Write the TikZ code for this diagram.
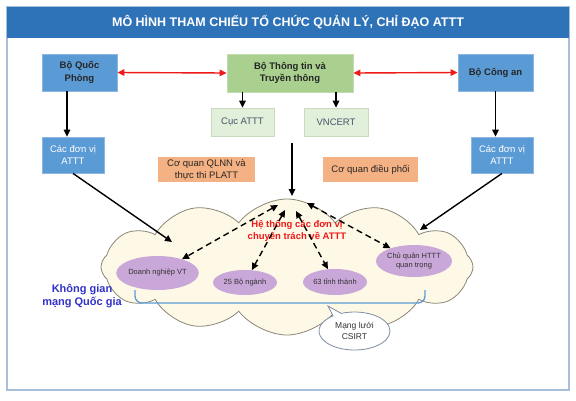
\documentclass[tikz,border=0pt]{standalone}
\usepackage{fontspec}
\setmainfont{Liberation Sans}
\usetikzlibrary{positioning,arrows.meta,shapes.geometric,shapes.symbols,shapes.callouts}
\definecolor{titleBlue}{HTML}{2E72B8}
\definecolor{frameBlue}{HTML}{A7BFDA}
\definecolor{boxBlue}{HTML}{5B9BD5}
\definecolor{boxBlueLine}{HTML}{8DB6E0}
\definecolor{ministryGreen}{HTML}{A9D08E}
\definecolor{ministryGreenLine}{HTML}{C3DDB0}
\definecolor{paleGreen}{HTML}{E2EFDA}
\definecolor{paleGreenLine}{HTML}{C8DBBD}
\definecolor{slateText}{HTML}{44546A}
\definecolor{softOrange}{HTML}{F4B183}
\definecolor{lilac}{HTML}{C9A7D9}
\definecolor{cloudCream}{HTML}{FEF9E6}
\definecolor{cloudLine}{HTML}{8A8778}
\definecolor{arrowRed}{HTML}{F01818}
\definecolor{spaceBlue}{HTML}{3232C8}
\definecolor{braceBlue}{HTML}{5B9BD5}
\definecolor{calloutLine}{HTML}{7F8EA0}
\tikzset{
    titlebar/.style={fill=titleBlue,minimum width=562pt,minimum height=31pt,
        inner sep=0pt,text=white,font=\fontsize{12.5}{14}\selectfont\bfseries},
    bluebox/.style={draw=boxBlueLine,fill=boxBlue,line width=0.8pt,inner sep=2pt,
        align=center,font=\fontsize{9.5}{12.3}\selectfont\bfseries,text=black!85},
    unitbox/.style={draw=boxBlueLine,fill=boxBlue,line width=0.8pt,inner sep=2pt,
        align=center,font=\fontsize{9.5}{12.3}\selectfont,text=white},
    greenbox/.style={draw=ministryGreenLine,fill=ministryGreen,line width=0.8pt,inner sep=2pt,
        align=center,font=\fontsize{9.5}{12.3}\selectfont\bfseries,text=black!85},
    palebox/.style={draw=paleGreenLine,fill=paleGreen,line width=0.8pt,inner sep=2pt,
        align=center,font=\fontsize{9.5}{11}\selectfont,text=slateText},
    orangebox/.style={fill=softOrange,inner sep=2pt,
        align=center,font=\fontsize{9.5}{11.5}\selectfont,text=black!85},
    unitellipse/.style={ellipse,fill=lilac,inner sep=0pt,
        align=center,font=\fontsize{7.5}{9.5}\selectfont,text=black!80},
    arrow/.style={-{Triangle[length=7pt,width=6.5pt]},draw=black,line width=1.4pt},
    redarrow/.style={{Triangle[length=7pt,width=6.5pt]}-{Triangle[length=7pt,width=6.5pt]},
        draw=arrowRed,line width=1.4pt},
    dashedarrow/.style={{Triangle[length=7pt,width=6.5pt]}-{Triangle[length=7pt,width=6.5pt]},
        draw=black,line width=1.4pt,dash pattern=on 6pt off 4pt}
}

\begin{document}
\begin{tikzpicture}[x=1pt,y=-1pt]
    \useasboundingbox (0,0) rectangle (576,400);
    \fill[white] (0,0) rectangle (576,400);
    \draw[frameBlue,line width=1.2pt] (7,7) rectangle (569,390);
    \node[titlebar] (title) at (288,22.5) {MÔ HÌNH THAM CHIẾU TỔ CHỨC QUẢN LÝ, CHỈ ĐẠO ATTT};

    % ministries
    \node[bluebox,minimum width=75pt,minimum height=37pt] (qp) at (79.5,72.5) {Bộ Quốc\\Phòng};
    \node[greenbox,minimum width=126pt,minimum height=38pt] (ttt) at (290,73) {Bộ Thông tin và\\Truyền thông};
    \node[bluebox,minimum width=75pt,minimum height=37pt] (ca) at (495.5,72.5) {Bộ Công an};
    \node[palebox,minimum width=63pt,minimum height=28pt] (cuc) at (242.5,122) {Cục ATTT};
    \node[palebox,minimum width=64pt,minimum height=28pt] (vncert) at (336,122) {VNCERT};
    \node[unitbox,minimum width=62pt,minimum height=36pt] (unitL) at (73,155) {Các đơn vị\\ATTT};
    \node[unitbox,minimum width=62pt,minimum height=36pt] (unitR) at (502,155) {Các đơn vị\\ATTT};
    \node[orangebox,minimum width=97pt,minimum height=25pt] (qlnn) at (206.5,169.5) {Cơ quan QLNN và\\thực thi PLATT};
    \node[orangebox,minimum width=95pt,minimum height=25pt] (dieuphoi) at (370.5,169.5) {Cơ quan điều phối};

    % national cyberspace
    \node[cloud,cloud puffs=12,cloud puff arc=105,aspect=2.7,draw=cloudLine,fill=cloudCream,
        line width=0.8pt,minimum width=372pt,minimum height=136pt,inner sep=0pt] (space) at (287,267) {};
    \node[text=arrowRed,align=center,font=\fontsize{9.5}{12}\selectfont\bfseries] (system) at (297,231)
        {Hệ thống các đơn vị\\chuyên trách về ATTT};
    \node[text=spaceBlue,align=center,font=\fontsize{11}{13.5}\selectfont\bfseries] (kgm) at (82,296)
        {Không gian\\mạng Quốc gia};
    \node[unitellipse,minimum width=77pt,minimum height=34pt] (dn) at (157.5,273) {Doanh nghiệp VT};
    \node[unitellipse,minimum width=64pt,minimum height=25pt] (bo) at (245,282.5) {25 Bộ ngành};
    \node[unitellipse,minimum width=64pt,minimum height=26pt] (tinh) at (335,282) {63 tỉnh thành};
    \node[unitellipse,minimum width=76pt,minimum height=32pt] (cq) at (414,261) {Chủ quản HTTT\\quan trọng};
    \draw[braceBlue,line width=1.3pt,rounded corners=7pt] (135,290) -- (135,303) -- (425,303) -- (425,290);
    \node[ellipse callout,callout absolute pointer={(328,306)},draw=calloutLine,fill=white,line width=0.8pt,
        minimum width=71pt,minimum height=38pt,inner sep=0pt,align=center,
        font=\fontsize{8.5}{11}\selectfont,text=black!80] (csirt) at (354.5,331) {Mạng lưới\\CSIRT};

    \coordinate (hubtop) at (292,143);
    \coordinate (hub) at (292,196);
    \coordinate (inL) at (172,242);
    \coordinate (inR) at (420,230);
    \coordinate (t1) at (278,205);
    \coordinate (t2) at (285,210);
    \coordinate (t3) at (296,211);
    \coordinate (t4) at (307,203);

    \draw[redarrow] (qp.east) -- (ttt.west);
    \draw[redarrow] (ttt.east) -- (ca.west);
    \draw[arrow] ([xshift=-12.5pt]qp.south) -- ([xshift=-12.5pt]qp.south |- unitL.north);
    \draw[arrow] (ca.south) -- (ca.south |- unitR.north);
    \draw[arrow] (cuc.north |- ttt.south) -- (cuc.north);
    \draw[arrow] (vncert.north |- ttt.south) -- (vncert.north);
    \draw[arrow] (unitL.south) -- (inL);
    \draw[arrow] (unitR.south) -- (inR);
    \draw[arrow] (hubtop) -- (hub);
    \draw[dashedarrow] (t1) -- (dn);
    \draw[dashedarrow] (t2) -- (bo);
    \draw[dashedarrow] (t3) -- (tinh);
    \draw[dashedarrow] (t4) -- (cq);
\end{tikzpicture}
\end{document}
